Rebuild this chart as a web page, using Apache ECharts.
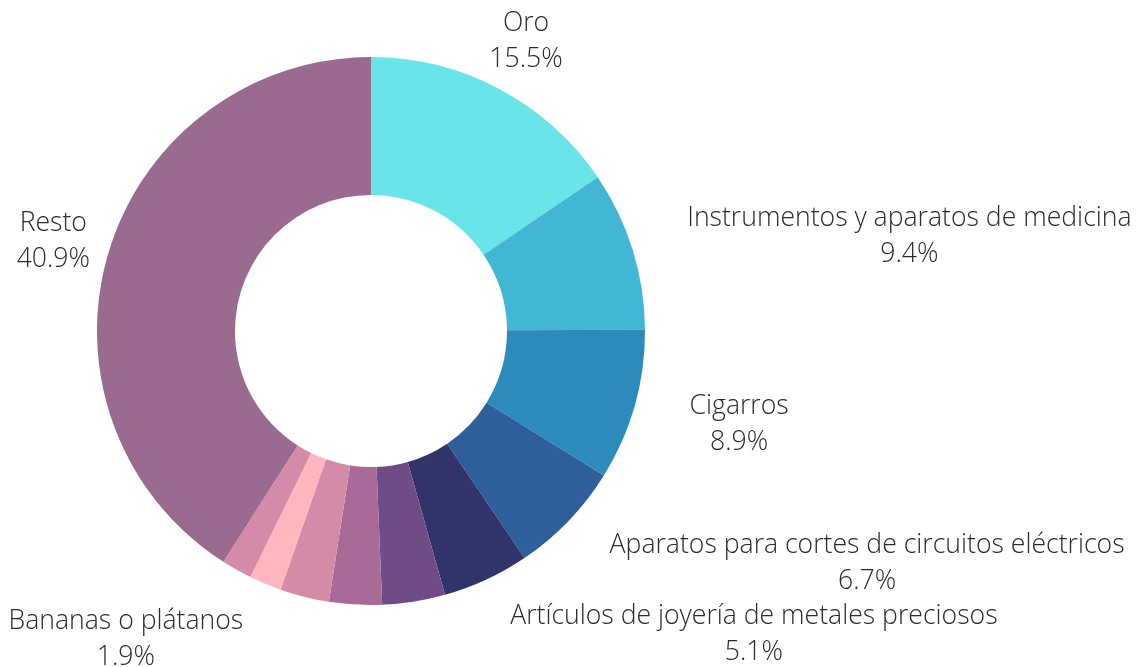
<!DOCTYPE html>
<html>
<head>
<meta charset="utf-8">
<script src="https://cdn.jsdelivr.net/npm/echarts@6/dist/echarts.min.js"></script>
<style>
html,body{margin:0;padding:0;background:#fff;}
#chart{width:1143px;height:667px;}
</style>
</head>
<body>
<div id="chart"></div>
<script>
var categories = [
  'Oro',
  'Instrumentos y aparatos de medicina',
  'Cigarros',
  'Aparatos para cortes de circuitos eléctricos',
  'Artículos de joyería de metales preciosos',
  'Otro producto A',
  'Otro producto B',
  'Otro producto C',
  'Bananas o plátanos',
  'Otro producto D',
  'Resto'
];
var shares = [15.5, 9.4, 8.9, 6.7, 5.1, 3.7, 3.1, 2.9, 1.9, 1.8, 40.9];
var showLabel = [true, true, true, true, true, false, false, false, true, false, true];
var colors = ['#69E4E8', '#42B7D5', '#2C8BBA', '#2E5F9A', '#30346B', '#6F4C87',
              '#A86A97', '#D48BA8', '#FFB6BD', '#D48BA8', '#9B6B8F'];

// label alignment tweaks (style only)
var labelAlign = {0: 'center', 10: 'center'};
var labelShiftY = 3;

var data = categories.map(function (c, i) {
  return {
    name: c,
    value: shares[i],
    itemStyle: {color: colors[i]},
    label: {show: showLabel[i]}
  };
});

var FS = 26.6, LH = 36;
var chart = echarts.init(document.getElementById('chart'), null, {renderer: 'canvas'});
chart.setOption({
  animation: false,
  backgroundColor: '#ffffff',
  series: [{
    type: 'pie',
    center: [371, 331],
    radius: [136, 274],
    startAngle: 90,
    clockwise: true,
    avoidLabelOverlap: false,
    data: data,
    label: {
      position: 'outside',
      alignTo: 'none',
      distanceToLabelLine: 0,
      color: '#2b2b2b',
      fontFamily: 'Open Sans',
      fontWeight: 300,
      fontSize: FS,
      lineHeight: LH,
      formatter: function (p) {
        return '{c|' + p.name + '}\n{c|' + p.value.toFixed(1) + '%}';
      },
      rich: {
        c: {align: 'center', fontFamily: 'Open Sans', fontWeight: 300, fontSize: FS, lineHeight: LH, color: '#2b2b2b'}
      }
    },
    labelLine: {show: false, length: 57, length2: 0},
    labelLayout: function (params) {
      var i = params.dataIndex;
      var out = {dy: labelShiftY};
      if (labelAlign[i]) out.align = labelAlign[i];
      return out;
    },
    emphasis: {disabled: true}
  }]
});
</script>
</body>
</html>
